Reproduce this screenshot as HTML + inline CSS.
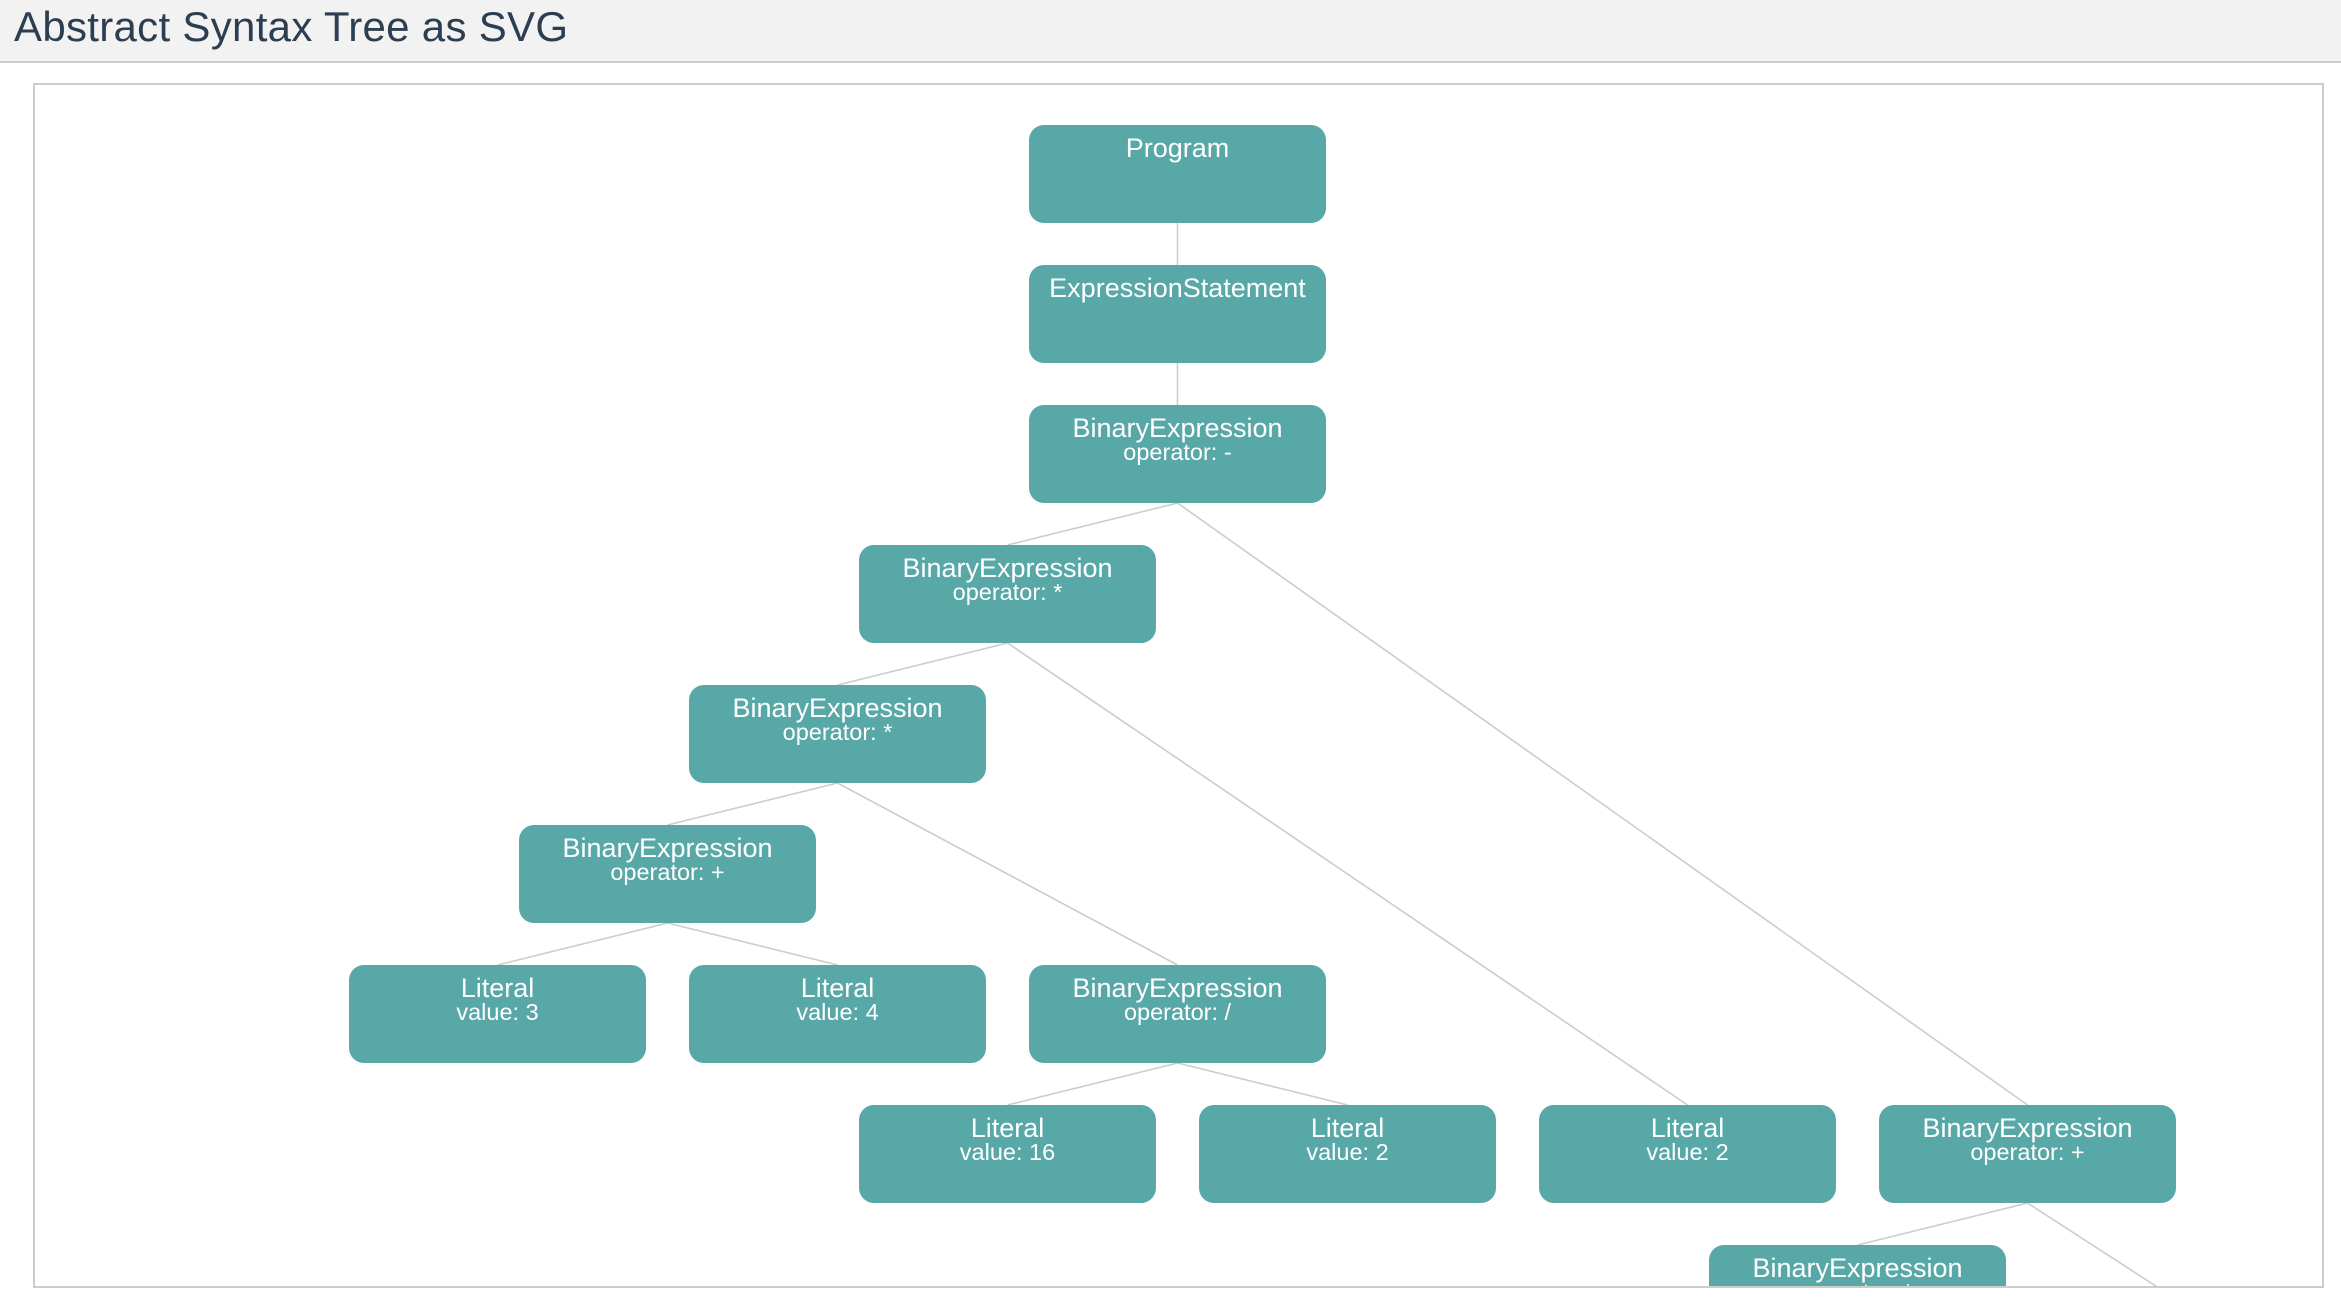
<!DOCTYPE html>
<html><head><style>
html,body{margin:0;padding:0;background:#fff;width:2341px;height:1300px;overflow:hidden}
.hdr{position:absolute;left:0;top:0;width:2341px;height:61px;background:#f2f2f2;border-bottom:2px solid #ccc}
.hdr h1{margin:0;position:absolute;left:14px;top:3px;font:400 42px "Liberation Sans",sans-serif;color:#2c3e50;letter-spacing:0.3px}
.box{position:absolute;left:33px;top:83px;width:2287px;height:1201px;border:2px solid #ccc;overflow:hidden}
svg{position:absolute;left:-35px;top:-85px}
text{font-family:"Liberation Sans",sans-serif;fill:#fff;text-anchor:middle}
.a{font-size:27px}.b{font-size:23.5px}
</style></head><body>
<div class="hdr"><h1>Abstract Syntax Tree as SVG</h1></div>
<div class="box">
<svg width="2341" height="1300" viewBox="0 0 2341 1300">
<g stroke="#ccc" stroke-width="1.6">
<line x1="1177.5" y1="223" x2="1177.5" y2="265"/>
<line x1="1177.5" y1="363" x2="1177.5" y2="405"/>
<line x1="1177.5" y1="503" x2="1007.5" y2="545"/>
<line x1="1177.5" y1="503" x2="2027.5" y2="1105"/>
<line x1="1007.5" y1="643" x2="837.5" y2="685"/>
<line x1="1007.5" y1="643" x2="1687.5" y2="1105"/>
<line x1="837.5" y1="783" x2="667.5" y2="825"/>
<line x1="837.5" y1="783" x2="1177.5" y2="965"/>
<line x1="667.5" y1="923" x2="497.5" y2="965"/>
<line x1="667.5" y1="923" x2="837.5" y2="965"/>
<line x1="1177.5" y1="1063" x2="1007.5" y2="1105"/>
<line x1="1177.5" y1="1063" x2="1347.5" y2="1105"/>
<line x1="2027.5" y1="1203" x2="1857.5" y2="1245"/>
<line x1="2027.5" y1="1203" x2="2250" y2="1347"/>
</g>
<g fill="#58a8a8">
<rect x="1029" y="125" width="297" height="98" rx="15"/>
<rect x="1029" y="265" width="297" height="98" rx="15"/>
<rect x="1029" y="405" width="297" height="98" rx="15"/>
<rect x="859" y="545" width="297" height="98" rx="15"/>
<rect x="689" y="685" width="297" height="98" rx="15"/>
<rect x="519" y="825" width="297" height="98" rx="15"/>
<rect x="349" y="965" width="297" height="98" rx="15"/>
<rect x="689" y="965" width="297" height="98" rx="15"/>
<rect x="1029" y="965" width="297" height="98" rx="15"/>
<rect x="859" y="1105" width="297" height="98" rx="15"/>
<rect x="1199" y="1105" width="297" height="98" rx="15"/>
<rect x="1539" y="1105" width="297" height="98" rx="15"/>
<rect x="1879" y="1105" width="297" height="98" rx="15"/>
<rect x="1709" y="1245" width="297" height="98" rx="15"/>
</g>
<text class="a" x="1177.5" y="157">Program</text>
<text class="a" x="1177.5" y="297">ExpressionStatement</text>
<text class="a" x="1177.5" y="437">BinaryExpression</text><text class="b" x="1177.5" y="460">operator: -</text>
<text class="a" x="1007.5" y="577">BinaryExpression</text><text class="b" x="1007.5" y="600">operator: *</text>
<text class="a" x="837.5" y="717">BinaryExpression</text><text class="b" x="837.5" y="740">operator: *</text>
<text class="a" x="667.5" y="857">BinaryExpression</text><text class="b" x="667.5" y="880">operator: +</text>
<text class="a" x="497.5" y="997">Literal</text><text class="b" x="497.5" y="1020">value: 3</text>
<text class="a" x="837.5" y="997">Literal</text><text class="b" x="837.5" y="1020">value: 4</text>
<text class="a" x="1177.5" y="997">BinaryExpression</text><text class="b" x="1177.5" y="1020">operator: /</text>
<text class="a" x="1007.5" y="1137">Literal</text><text class="b" x="1007.5" y="1160">value: 16</text>
<text class="a" x="1347.5" y="1137">Literal</text><text class="b" x="1347.5" y="1160">value: 2</text>
<text class="a" x="1687.5" y="1137">Literal</text><text class="b" x="1687.5" y="1160">value: 2</text>
<text class="a" x="2027.5" y="1137">BinaryExpression</text><text class="b" x="2027.5" y="1160">operator: +</text>
<text class="a" x="1857.5" y="1277">BinaryExpression</text><text class="b" x="1857.5" y="1300">operator: *</text>
</svg>
</div>
</body></html>
